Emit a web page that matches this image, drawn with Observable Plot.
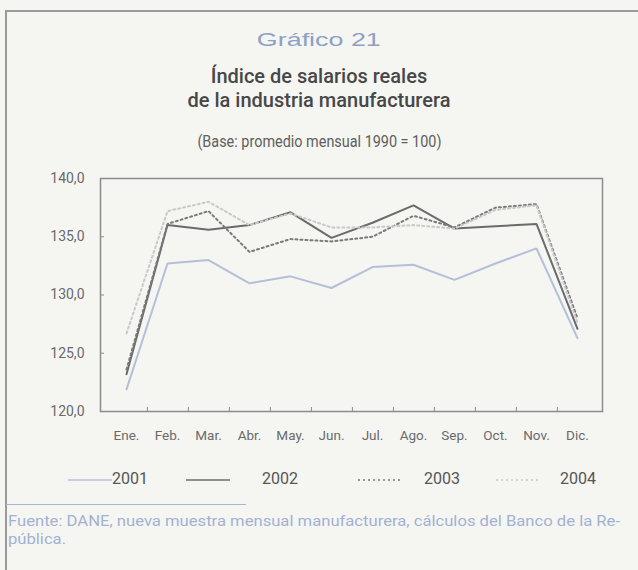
<!DOCTYPE html>
<html>
<head>
<meta charset="utf-8">
<script src="https://cdn.jsdelivr.net/npm/d3@7"></script>
<script src="https://cdn.jsdelivr.net/npm/@observablehq/plot@0.6"></script>
<style>
  html, body { margin: 0; padding: 0; }
  body { width: 638px; height: 570px; background: #f5f6f2; position: relative; overflow: hidden;
         font-family: "Liberation Sans", Arial, sans-serif; }
  .frame { position: absolute; left: 5px; top: 10px; width: 640px; height: 580px;
           border-left: 2px solid #9a9a9a; border-top: 2px solid #9a9a9a; }
  .abs { position: absolute; left: 0; width: 638px; text-align: center; white-space: nowrap; }
  .fit { display: inline-block; transform-origin: 50% 50%; white-space: nowrap; }
  .num { color: #8ea0c4; font-size: 19px; top: 29px; }
  .t1 { color: #474747; font-size: 20px; font-weight: 500; top: 64px; font-family: Roboto, sans-serif; }
  .t2 { color: #474747; font-size: 20px; font-weight: 500; top: 88px; font-family: Roboto, sans-serif; }
  .sub { color: #5e5e5e; font-size: 16px; top: 132px; font-family: Roboto, sans-serif; }
  #chart { position: absolute; left: 0; top: 160px; }
  .legend { position: absolute; top: 469px; left: 0; width: 638px; height: 20px;
            font-family: Roboto, sans-serif; font-size: 16px; color: #555; }
  .legend .item { position: absolute; top: 0; }
  .legend svg { position: absolute; top: 9px; }
  .sep { position: absolute; left: 6px; top: 504px; width: 240px; height: 0; border-top: 1.5px solid #a8b4d4; }
  .src { position: absolute; left: 8px; top: 512px; color: #a3b1d2; font-size: 14px; line-height: 18px;
         font-family: Roboto, sans-serif; white-space: nowrap; }
  .src .fitl { display: block; transform-origin: 0 50%; white-space: nowrap; }
</style>
</head>
<body>
<div class="frame"></div>
<div class="abs num"><span class="fit" data-w="124">Gráfico 21</span></div>
<div class="abs t1"><span class="fit">Índice de salarios reales</span></div>
<div class="abs t2"><span class="fit">de la industria manufacturera</span></div>
<div class="abs sub"><span class="fit" data-w="244">(Base: promedio mensual 1990 = 100)</span></div>
<div id="chart"></div>
<div class="legend" id="legend"></div>
<div class="sep"></div>
<div class="src"><span class="fitl" data-w="612">Fuente: DANE, nueva muestra mensual manufacturera, cálculos del Banco de la Re-</span><span class="fitl">pública.</span></div>
<script>
const months = ["Ene.", "Feb.", "Mar.", "Abr.", "May.", "Jun.", "Jul.", "Ago.", "Sep.", "Oct.", "Nov.", "Dic."];
const years = ["2001", "2002", "2003", "2004"];
const s2001 = [121.9, 132.7, 133.0, 131.0, 131.6, 130.6, 132.4, 132.6, 131.3, 132.7, 134.0, 126.3];
const s2002 = [123.2, 136.0, 135.6, 136.0, 137.1, 134.9, 136.2, 137.7, 135.7, 135.9, 136.1, 127.1];
const s2003 = [123.6, 136.1, 137.2, 133.7, 134.8, 134.6, 135.0, 136.8, 135.8, 137.5, 137.8, 128.0];
const s2004 = [126.7, 137.2, 138.0, 136.0, 137.0, 135.8, 135.8, 136.0, 135.7, 137.3, 137.7, 127.6];
const yTicks = [120, 125, 130, 135, 140];
const yInnerTicks = [125, 130, 135];

const seriesValues = [s2001, s2002, s2003, s2004];
const rows = [];
years.forEach((y, i) => months.forEach((m, j) => rows.push({year: y, month: m, value: seriesValues[i][j]})));

const styles = {
  "2001": {stroke: "#b4bfd8", dash: null, width: 2},
  "2002": {stroke: "#6b6b6b", dash: null, width: 2},
  "2003": {stroke: "#7a7a7a", dash: "2,3", width: 2},
  "2004": {stroke: "#c9c9c9", dash: "2,3", width: 2}
};

const W = 638, H = 290, mL = 100, mR = 36, mT = 18, mB = 39;
const step = (W - mL - mR) / months.length;
const fmt = d => d.toFixed(1).replace(".", ",");

const marks = [];
years.forEach(y => {
  const st = styles[y];
  marks.push(Plot.line(rows.filter(r => r.year === y), {
    x: "month", y: "value", stroke: st.stroke, strokeWidth: st.width,
    strokeDasharray: st.dash, strokeLinejoin: "miter", curve: "linear"
  }));
});
marks.push(Plot.frame({stroke: "#8c8c8c", strokeWidth: 1.5}));
marks.push(Plot.axisY(yTicks, {tickSize: 0, tickPadding: 16, tickFormat: fmt, fontSize: 14, fill: "#6a6a6a", fontFamily: "Roboto, sans-serif", label: null}));
marks.push(Plot.axisY(yInnerTicks, {tickSize: 4, dx: 4, tickFormat: () => "", stroke: "#8c8c8c", label: null}));
marks.push(Plot.axisX(months, {tickSize: 0, tickPadding: 19, fontSize: 13.5, fill: "#6a6a6a", fontFamily: "Roboto, sans-serif", label: null}));
marks.push(Plot.axisX(months.slice(0, -1), {tickSize: 4, dy: -4, dx: step / 2, tickFormat: () => "", stroke: "#8c8c8c", label: null}));

const chart = Plot.plot({
  width: W, height: H,
  marginLeft: mL, marginRight: mR, marginTop: mT, marginBottom: mB,
  style: {background: "transparent", overflow: "visible"},
  x: {type: "point", domain: months, padding: 0.5, label: null},
  y: {domain: [120, 140], label: null},
  marks
});
document.getElementById("chart").appendChild(chart);

// legend
const legendPos = {"2001": [68, 112], "2002": [186, 262], "2003": [358, 424], "2004": [496, 560]};
const leg = document.getElementById("legend");
years.forEach(y => {
  const st = styles[y];
  const [lx, tx] = legendPos[y];
  const svg = d3.select(leg).append("svg").attr("width", 46).attr("height", 4).style("left", lx + "px");
  svg.append("line").attr("x1", 0).attr("x2", 44).attr("y1", 2).attr("y2", 2)
    .attr("stroke", st.stroke).attr("stroke-width", 1.5).attr("stroke-dasharray", st.dash);
  d3.select(leg).append("div").attr("class", "item").style("left", tx + "px").text(y);
});

// fit text widths to the reference
let srcScale = 1;
document.querySelectorAll("[data-w]").forEach(el => {
  const w = el.getBoundingClientRect().width;
  const s = (+el.dataset.w) / w;
  el.style.transform = `scaleX(${s})`;
  if (el.classList.contains("fitl")) srcScale = s;
});
document.querySelectorAll(".fitl:not([data-w])").forEach(el => el.style.transform = `scaleX(${srcScale})`);
</script>
</body>
</html>
